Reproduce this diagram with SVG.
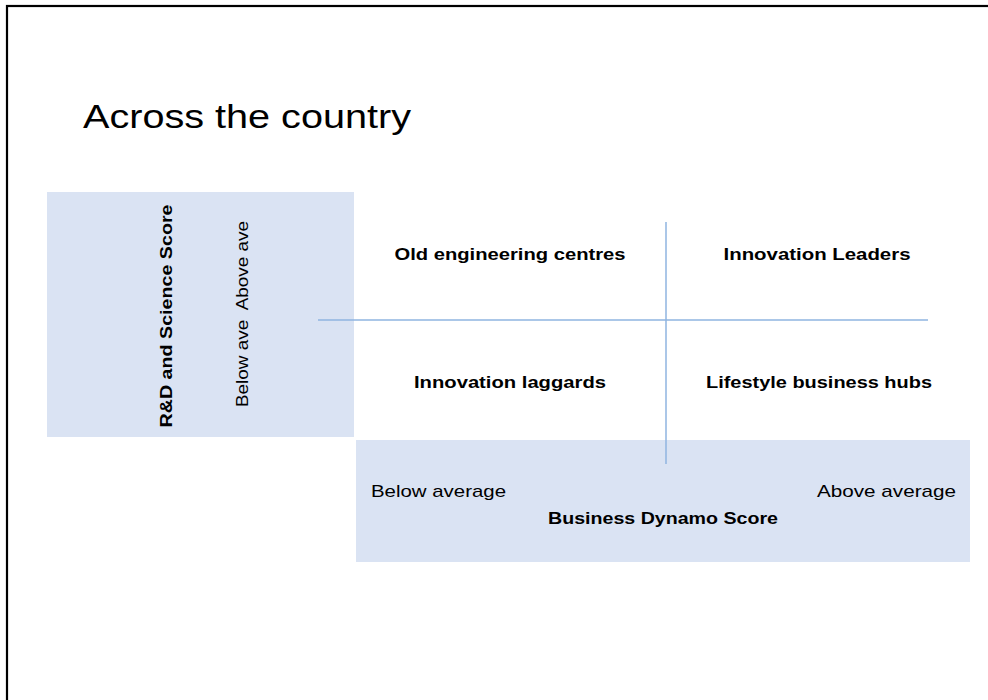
<svg xmlns="http://www.w3.org/2000/svg" width="988" height="700" viewBox="0 0 988 700">
<style>
.box{fill:#DAE3F3;}
.ln{stroke:#8FB5E0;stroke-width:1.5;fill:none;}
.t{font-family:"Liberation Sans",Arial,sans-serif;fill:#000;}
.b{font-weight:bold;font-size:16.5px;}
.r{font-size:17px;}
</style>
<rect x="0" y="0" width="988" height="700" fill="#fff"/>
<rect x="7" y="6" width="1000" height="720" fill="none" stroke="#000" stroke-width="2.2"/>
<text id="title" class="t" x="83" y="128" font-size="34" textLength="328" lengthAdjust="spacingAndGlyphs">Across the country</text>
<g id="yaxis">
<rect class="box" x="47" y="192" width="307" height="245"/>
<text class="t b" transform="translate(172,316) rotate(-90)" text-anchor="middle" textLength="223" lengthAdjust="spacingAndGlyphs">R&amp;D and Science Score</text>
<text class="t r" transform="translate(248,314) rotate(-90)" text-anchor="middle" textLength="186" lengthAdjust="spacingAndGlyphs" xml:space="preserve">Below ave  Above ave</text>
</g>
<g id="xaxis">
<rect class="box" x="356" y="440" width="614" height="122"/>
<text class="t r" x="371" y="497" textLength="135" lengthAdjust="spacingAndGlyphs">Below average</text>
<text class="t r" x="817" y="497" textLength="139" lengthAdjust="spacingAndGlyphs">Above average</text>
<text class="t b" x="663" y="524" text-anchor="middle" textLength="230" lengthAdjust="spacingAndGlyphs">Business Dynamo Score</text>
</g>
<g id="connectors">
<line class="ln" x1="318" y1="320" x2="928" y2="320"/>
<line class="ln" x1="666" y1="222" x2="666" y2="464"/>
</g>
<g id="q1"><text class="t b" x="510" y="260" text-anchor="middle" textLength="231" lengthAdjust="spacingAndGlyphs">Old engineering centres</text></g>
<g id="q2"><text class="t b" x="817" y="260" text-anchor="middle" textLength="187" lengthAdjust="spacingAndGlyphs">Innovation Leaders</text></g>
<g id="q3"><text class="t b" x="510" y="388" text-anchor="middle" textLength="192" lengthAdjust="spacingAndGlyphs">Innovation laggards</text></g>
<g id="q4"><text class="t b" x="819" y="388" text-anchor="middle" textLength="226" lengthAdjust="spacingAndGlyphs">Lifestyle business hubs</text></g>
</svg>
